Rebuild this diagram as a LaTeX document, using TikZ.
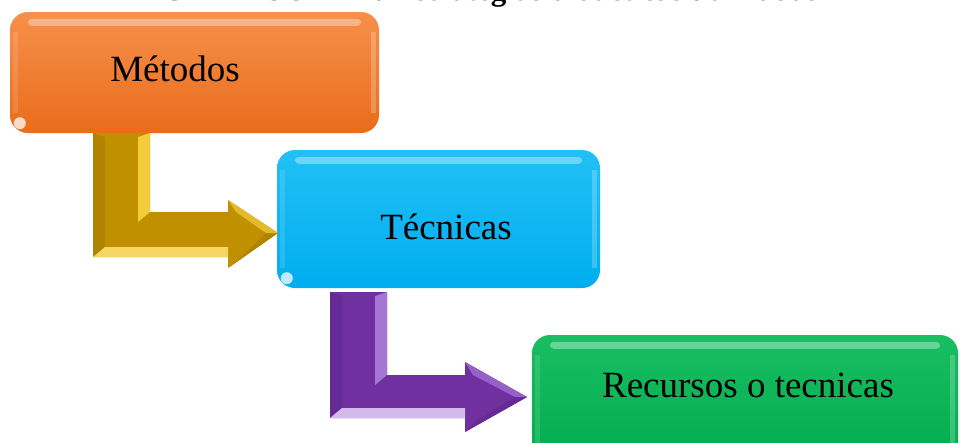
\documentclass[tikz,border=0pt]{standalone}
\usepackage{fontspec}
\setmainfont{Liberation Serif}
\definecolor{orTop}{HTML}{F6904C}
\definecolor{orBot}{HTML}{E96C1A}
\definecolor{blTop}{HTML}{22C0F6}
\definecolor{blBot}{HTML}{00ADEE}
\definecolor{grTop}{HTML}{1ABD62}
\definecolor{grBot}{HTML}{00AD4E}
\definecolor{gold}{HTML}{C09000}
\definecolor{goldLight}{HTML}{F2CC3C}
\definecolor{goldDark}{HTML}{B08400}
\definecolor{purp}{HTML}{7030A0}
\definecolor{purpLight}{HTML}{A676D6}
\definecolor{purpDark}{HTML}{662A94}
\tikzset{
  box/.style={rectangle, rounded corners=18pt, draw=none, inner sep=0pt},
  boxtext/.style={font=\fontsize{37}{40}\selectfont, text=black, inner sep=0pt},
  shine/.style={white, opacity=.35, rounded corners=4pt},
  spot/.style={white, opacity=.75}
}
\begin{document}
\begin{tikzpicture}[x=1pt,y=-1pt]
\useasboundingbox (0,0) rectangle (960,442);
\clip (0,0) rectangle (960,442);
\fill[white] (0,0) rectangle (960,442);
% clipped title
\node[font=\bfseries\fontsize{31}{33}\selectfont, anchor=base] (title) at (490,0.8) {GRÁFICO N° 1: Estrategias didácticas utilizadas};
% boxes
\node[box, top color=orTop, bottom color=orBot, minimum width=369pt, minimum height=121pt] (m) at (194.5,72.5) {};
\node[box, top color=blTop, bottom color=blBot, minimum width=323pt, minimum height=138pt] (t) at (438.5,219) {};
\node[box, top color=grTop, bottom color=grBot, minimum width=426pt, minimum height=130pt] (r) at (745,400) {};
% glossy effects
\foreach \n in {m,t,r}{
  \fill[shine] ([xshift=18pt,yshift=-7pt]\n.north west) rectangle ([xshift=-18pt,yshift=-14pt]\n.north east);
  \fill[white,opacity=.22] ([xshift=-8pt,yshift=-20pt]\n.north east) rectangle ([xshift=-3pt,yshift=20pt]\n.south east);
  \fill[white,opacity=.12] ([xshift=3pt,yshift=-20pt]\n.north west) rectangle ([xshift=8pt,yshift=20pt]\n.south west);
  \fill[spot] ([xshift=10pt,yshift=10pt]\n.south west) circle (6pt);
}
% texts
\node[boxtext] (mt) at (175,69) {Métodos};
\node[boxtext] (tt) at (446,227) {Técnicas};
\node[boxtext] (rt) at (748,385) {Recursos o tecnicas};
% gold bent arrow
\fill[gold] (93,133) -- (150,133) -- (150,212) -- (228,212) -- (228,200) -- (278,233) -- (228,268) -- (228,257) -- (93,257) -- cycle;
\fill[goldDark] (93,133) -- (105,137) -- (105,247) -- (93,257) -- cycle;
\fill[goldLight] (138,137) -- (150,133) -- (150,212) -- (138,222) -- cycle;
\fill[goldLight!80!white] (93,257) -- (105,247) -- (228,247) -- (228,257) -- cycle;
\fill[goldDark] (228,268) -- (240,258) -- (266,233) -- (278,233) -- cycle;
\fill[goldLight!70!gold] (228,200) -- (278,233) -- (266,233) -- (236,212) -- cycle;
% purple bent arrow
\fill[purp] (330,292) -- (387,292) -- (387,375) -- (465,375) -- (465,362) -- (527,397) -- (465,432) -- (465,418) -- (330,418) -- cycle;
\fill[purpDark] (330,292) -- (342,296) -- (342,408) -- (330,418) -- cycle;
\fill[purpLight] (375,296) -- (387,292) -- (387,375) -- (375,385) -- cycle;
\fill[purpLight!50!white] (330,418) -- (342,408) -- (465,408) -- (465,418) -- cycle;
\fill[purpDark] (465,432) -- (477,420) -- (515,397) -- (527,397) -- cycle;
\fill[purpLight!70!purp] (465,362) -- (527,397) -- (515,397) -- (473,375) -- cycle;
\end{tikzpicture}
\end{document}
